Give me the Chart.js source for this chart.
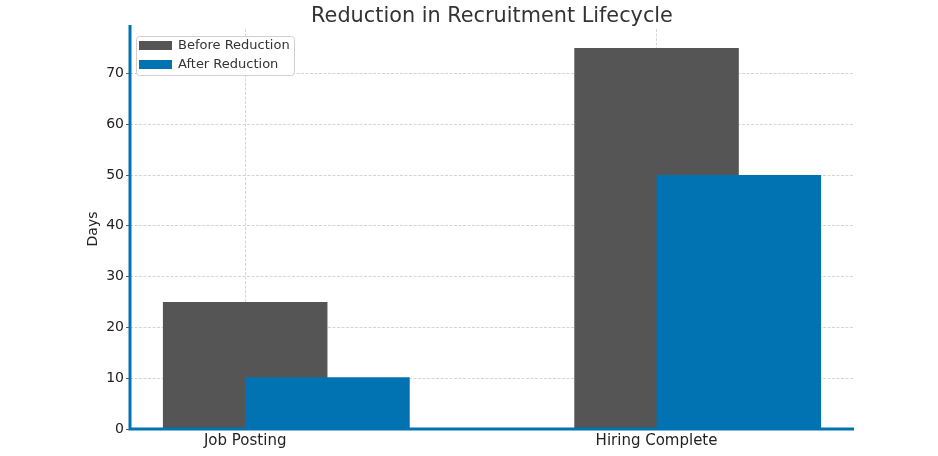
<!DOCTYPE html>
<html lang="en">
<head>
  <meta charset="UTF-8" />
  <title>Reduction in Recruitment Lifecycle</title>
  <script src="https://cdn.jsdelivr.net/npm/chart.js"></script>
  <style>
    html, body { margin: 0; padding: 0; background: #fff; }
    .chart-box { position: relative; width: 938px; height: 456px; }
  </style>
</head>
<body>
  <div class="chart-box"><canvas id="lifecycleChart"></canvas></div>

  <script>
    // chart data
    const categories = ["Job Posting", "Hiring Complete"];
    const beforeDays = [25, 75];
    const afterDays = [10.2, 50];
    const yTicks = [0, 10, 20, 30, 40, 50, 60, 70];
    const seriesNames = ["Before Reduction", "After Reduction"];
    const chartTitle = "Reduction in Recruitment Lifecycle";

    const greyBar = "#555555";
    const blueBar = "#0173B2";
    const font = "'DejaVu Sans', sans-serif";

    // after bars sit half a bar to the right of the category
    const barOffset = 0.2;

    // title centred over the plot area, not the whole canvas
    const plotTitle = {
      id: "plotTitle",
      afterDraw(chart) {
        const { ctx, chartArea: a } = chart;
        ctx.save();
        ctx.font = "20.8px " + font;
        ctx.fillStyle = "#333";
        ctx.textAlign = "center";
        ctx.textBaseline = "middle";
        ctx.fillText(chartTitle, (a.left + a.right) / 2, 17);
        ctx.restore();
      }
    };

    // matplotlib-like spines on the left and bottom, drawn over the bars
    const spines = {
      id: "spines",
      afterDatasetsDraw(chart) {
        const { ctx, chartArea: a } = chart;
        ctx.save();
        ctx.strokeStyle = blueBar;
        ctx.lineWidth = 3;
        ctx.beginPath();
        ctx.moveTo(a.left, a.top - 4);
        ctx.lineTo(a.left, a.bottom);
        ctx.lineTo(a.right, a.bottom);
        ctx.stroke();
        ctx.restore();
      }
    };

    // legend box inside the plot, top left
    const innerLegend = {
      id: "innerLegend",
      afterDraw(chart) {
        const { ctx, chartArea: a } = chart;
        const x = a.left + 6, y = a.top + 7, w = 158, h = 39;
        ctx.save();
        ctx.fillStyle = "rgba(255,255,255,0.85)";
        ctx.strokeStyle = "#d0d0d0";
        ctx.lineWidth = 1;
        ctx.beginPath();
        ctx.roundRect(x + 0.5, y + 0.5, w, h, 3);
        ctx.fill();
        ctx.stroke();
        const colors = [greyBar, blueBar];
        ctx.font = "13px " + font;
        ctx.textBaseline = "middle";
        seriesNames.forEach((name, i) => {
          const rowY = y + 5 + i * 19;
          ctx.fillStyle = colors[i];
          ctx.fillRect(x + 3, rowY, 33, 9);
          ctx.fillStyle = "#333";
          ctx.fillText(name, x + 42, rowY + 5);
        });
        ctx.restore();
      }
    };

    new Chart(document.getElementById("lifecycleChart"), {
      type: "bar",
      data: {
        datasets: [
          {
            label: seriesNames[0],
            data: beforeDays.map((v, i) => ({ x: i, y: v })),
            backgroundColor: greyBar,
            order: 2
          },
          {
            label: seriesNames[1],
            data: afterDays.map((v, i) => ({ x: i + barOffset, y: v })),
            backgroundColor: blueBar,
            order: 1
          }
        ]
      },
      options: {
        responsive: true,
        maintainAspectRatio: false,
        animation: false,
        grouped: false,
        categoryPercentage: 1,
        barPercentage: 2,
        layout: { padding: { left: 0, right: 84, top: 29, bottom: 0 } },
        plugins: {
          legend: { display: false },
          tooltip: { enabled: false },
          title: { display: false }
        },
        scales: {
          x: {
            type: "linear",
            min: -0.28,
            max: 1.48,
            offset: false,
            afterBuildTicks: s => { s.ticks = categories.map((c, i) => ({ value: i })); },
            afterFit: s => { s.height = 27; },
            ticks: {
              callback: v => categories[v],
              color: "#222",
              font: { family: font, size: 15 },
              padding: 3
            },
            grid: { offset: false, color: "#cccccc", lineWidth: 0.8, drawTicks: false },
            border: { display: false, dash: [3, 1.5] }
          },
          y: {
            min: 0,
            max: 78.75,
            afterBuildTicks: s => { s.ticks = yTicks.map(v => ({ value: v })); },
            afterFit: s => { s.width = 130; },
            ticks: {
              color: "#222",
              font: { family: font, size: 14 },
              padding: 2
            },
            grid: {
              color: "#cccccc",
              lineWidth: 0.8,
              tickLength: 4,
              tickColor: "#333",
              tickBorderDash: []
            },
            border: { display: false, dash: [3, 1.5] },
            title: {
              display: true,
              text: "Days",
              color: "#222",
              font: { family: font, size: 14 },
              padding: { top: 85, bottom: 0 }
            }
          }
        }
      },
      plugins: [spines, innerLegend, plotTitle]
    });
  </script>
</body>
</html>
